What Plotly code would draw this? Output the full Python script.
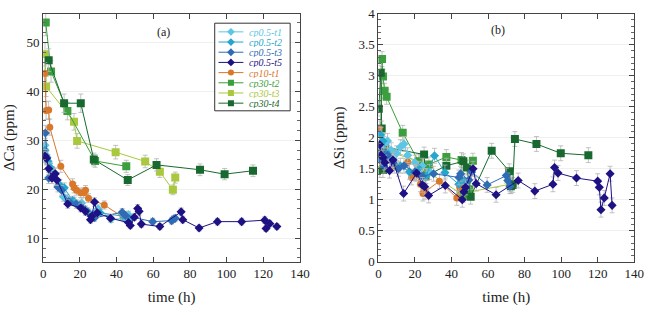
import plotly.graph_objects as go

W, H = 655, 315

series_names = ["cp0.5-t1", "cp0.5-t2", "cp0.5-t3", "cp0.5-t5",
                "cp10-t1", "cp30-t2", "cp30-t3", "cp30-t4"]
series_colors = ["#5cc6e4", "#25a6cc", "#2f6cb6", "#1d1184",
                 "#d9772a", "#3a9f3c", "#a9c83e", "#18692f"]
series_symbols = ["diamond", "diamond", "diamond", "diamond",
                  "circle", "square", "square", "square"]

# ---------------- Panel (a): delta Ca (ppm) ----------------
ca_t_cp05_t1 = [1.0, 1.5, 3.0, 5.0, 7.0, 9.0, 11.0, 13.0, 17.0, 21.0, 25.0, 30.0, 37.0, 44.5, 46.5]
ca_v_cp05_t1 = [29.0, 27.0, 25.3, 23.5, 22.0, 21.0, 18.5, 18.0, 17.5, 17.2, 15.2, 16.0, 13.9, 14.0, 14.8]

ca_t_cp05_t2 = [1.0, 2.5, 4.0, 6.0, 9.0, 11.5, 16.0, 20.0, 24.0, 27.5, 31.0, 44.0, 47.0]
ca_v_cp05_t2 = [28.0, 25.8, 24.4, 23.2, 20.8, 20.3, 17.7, 16.8, 15.5, 14.8, 15.2, 14.5, 14.0]

ca_t_cp05_t3 = [1.2, 2.0, 3.0, 5.0, 8.0, 10.0, 14.0, 18.0, 21.0, 23.0, 26.0, 28.0, 43.1, 45.0, 59.7, 70.0, 71.0, 72.0]
ca_v_cp05_t3 = [31.5, 26.5, 22.3, 22.8, 20.5, 19.8, 17.5, 17.0, 16.3, 15.8, 14.6, 14.2, 15.3, 14.6, 13.4, 13.6, 13.9, 14.1]

ca_t_cp05_t5 = [1.0, 1.8, 3.0, 4.8, 6.6, 7.5, 13.4, 20.5, 23.0, 25.8, 26.5, 28.0, 29.5, 36.7, 46.5,
                47.5, 49.7, 51.5, 52.3, 53.5, 63.6, 75.2, 76.1, 85.0, 95.0, 108.2, 120.8, 121.5, 123.5, 127.4]
ca_v_cp05_t5 = [26.8, 26.3, 24.2, 22.3, 23.2, 21.9, 17.0, 16.2, 15.5, 13.8, 14.5, 17.4, 15.2, 14.1, 13.2,
                12.6, 14.3, 16.1, 15.5, 12.9, 12.4, 15.4, 13.8, 12.1, 13.4, 13.4, 13.7, 12.0, 13.0, 12.4]

ca_t_cp10_t1 = [0.9, 1.6, 3.0, 3.6, 9.6, 16.0, 16.9, 18.2, 20.5, 22.1, 23.1, 24.7, 33.3, 43.6]
ca_v_cp10_t1 = [43.7, 36.1, 36.2, 32.7, 24.7, 21.1, 20.3, 19.8, 19.3, 19.3, 19.8, 18.2, 16.8, 14.3]

ca_t_cp30_t2 = [1.4, 4.3, 13.2, 28.3, 45.3]
ca_v_cp30_t2 = [54.1, 44.1, 36.0, 25.8, 24.7]

ca_t_cp30_t3 = [1.0, 1.6, 16.8, 18.5, 39.5, 55.6, 63.6, 70.7, 72.0]
ca_v_cp30_t3 = [47.6, 41.0, 33.8, 29.9, 27.6, 25.7, 23.6, 19.9, 22.4]

ca_t_cp30_t4 = [3.0, 11.4, 20.5, 27.6, 46.1, 61.8, 85.5, 98.9, 114.4]
ca_v_cp30_t4 = [46.4, 37.6, 37.6, 26.1, 21.9, 25.0, 24.0, 23.1, 23.8]

# ---------------- Panel (b): delta Si (ppm) ----------------
si_t_cp05_t1 = [0.5, 1.5, 3.0, 5.0, 7.0, 10.0, 12.0, 14.0, 16.0, 20.0, 24.0, 28.0]
si_v_cp05_t1 = [1.85, 2.05, 1.90, 1.95, 1.80, 1.75, 1.85, 1.90, 1.72, 1.60, 1.55, 1.45]

si_t_cp05_t2 = [1.0, 2.5, 5.0, 8.0, 12.0, 17.0, 22.0, 26.0, 30.7, 36.4, 44.0, 47.0]
si_v_cp05_t2 = [2.05, 1.95, 1.75, 1.65, 1.55, 1.45, 1.50, 1.38, 1.71, 1.44, 1.25, 1.30]

si_t_cp05_t3 = [0.5, 1.5, 3.0, 5.0, 8.0, 11.0, 14.0, 20.0, 24.0, 30.2, 44.1, 45.0, 49.5, 51.0, 59.5, 70.0, 70.8, 72.0]
si_v_cp05_t3 = [1.65, 1.78, 1.55, 1.72, 1.60, 1.50, 1.55, 1.45, 1.38, 1.42, 1.36, 1.42, 1.32, 1.45, 1.24, 1.39, 1.31, 1.22]

si_t_cp05_t5 = [0.7, 1.5, 2.5, 3.5, 6.1, 7.9, 13.8, 20.9, 24.1, 25.3, 27.5, 36.6, 45.9, 46.8, 47.7,
                51.8, 53.5, 64.4, 76.5, 85.6, 95.5, 96.4, 98.3, 108.4, 120.0, 120.9, 121.8, 123.6, 126.8, 127.9]
si_v_cp05_t5 = [1.89, 1.72, 1.68, 1.60, 1.47, 1.64, 1.10, 1.43, 1.24, 1.21, 1.07, 1.23, 1.00, 1.13, 1.20,
                1.50, 1.26, 1.08, 1.31, 1.14, 1.25, 1.52, 1.43, 1.35, 1.30, 1.20, 0.84, 1.03, 1.42, 0.91]

si_t_cp10_t1 = [0.5, 1.2, 3.5, 8.9, 16.1, 18.2, 20.5, 23.0, 24.4, 25.5, 33.4, 42.9, 44.5]
si_v_cp10_t1 = [2.15, 1.85, 1.62, 1.55, 1.61, 1.36, 1.42, 1.25, 1.10, 1.13, 1.30, 1.03, 1.20]

si_t_cp30_t2 = [0.8, 2.0, 2.5, 3.4, 4.5, 13.3, 22.0, 25.9, 27.6, 37.2, 45.5, 46.4, 49.8, 51.7]
si_v_cp30_t2 = [1.48, 3.27, 2.99, 2.76, 2.66, 2.08, 1.62, 1.38, 1.57, 1.69, 1.64, 1.08, 1.17, 1.63]

si_t_cp30_t3 = [1.5, 3.0, 22.5, 27.0, 45.0, 72.0]
si_v_cp30_t3 = [1.75, 1.80, 1.62, 1.45, 1.10, 1.25]

si_t_cp30_t4 = [0.2, 1.3, 1.8, 2.5, 3.5, 25.0, 25.8, 37.2, 46.5, 48.5, 50.5, 62.0, 71.6, 72.5, 73.5,
                74.7, 86.5, 99.8, 114.9]
si_v_cp30_t4 = [2.47, 3.05, 2.15, 1.48, 1.85, 1.73, 1.38, 1.55, 1.62, 1.52, 1.05, 1.79, 1.46, 1.22, 1.24,
                1.98, 1.90, 1.75, 1.72]

ca_data = [(ca_t_cp05_t1, ca_v_cp05_t1), (ca_t_cp05_t2, ca_v_cp05_t2), (ca_t_cp05_t3, ca_v_cp05_t3),
           (ca_t_cp05_t5, ca_v_cp05_t5), (ca_t_cp10_t1, ca_v_cp10_t1), (ca_t_cp30_t2, ca_v_cp30_t2),
           (ca_t_cp30_t3, ca_v_cp30_t3), (ca_t_cp30_t4, ca_v_cp30_t4)]
si_data = [(si_t_cp05_t1, si_v_cp05_t1), (si_t_cp05_t2, si_v_cp05_t2), (si_t_cp05_t3, si_v_cp05_t3),
           (si_t_cp05_t5, si_v_cp05_t5), (si_t_cp10_t1, si_v_cp10_t1), (si_t_cp30_t2, si_v_cp30_t2),
           (si_t_cp30_t3, si_v_cp30_t3), (si_t_cp30_t4, si_v_cp30_t4)]

draw_order = [6, 5, 7, 4, 0, 1, 2, 3]
FONT = "Liberation Serif, DejaVu Serif, serif"
marker_size = {"diamond": 7, "circle": 7, "square": 8}

fig = go.Figure()

for panel, data, xa, ya, err in [("a", ca_data, "x", "y", dict(type="percent", value=5)),
                                 ("b", si_data, "x2", "y2", dict(type="constant", value=0.12))]:
    for i in draw_order:
        t, v = data[i]
        fig.add_trace(go.Scatter(
            x=t, y=v, xaxis=xa, yaxis=ya, mode="lines+markers",
            name=series_names[i], showlegend=False,
            line=dict(color=series_colors[i], width=1),
            marker=dict(symbol=series_symbols[i], size=marker_size[series_symbols[i]],
                        color=series_colors[i], line=dict(width=0)),
            error_y=dict(visible=True, color="#b4b4b4", thickness=0.8, width=2.5, **err),
        ))

# custom compact legend on its own hidden axes
for i, nm in enumerate(series_names):
    fig.add_trace(go.Scatter(x=[0.05, 0.38], y=[i, i], xaxis="x3", yaxis="y3", mode="lines",
                             line=dict(color=series_colors[i], width=1), showlegend=False,
                             hoverinfo="skip"))
    fig.add_trace(go.Scatter(x=[0.215], y=[i], xaxis="x3", yaxis="y3", mode="markers",
                             marker=dict(symbol=series_symbols[i], size=6, color=series_colors[i]),
                             showlegend=False, hoverinfo="skip"))
    fig.add_annotation(x=0.43, y=i, xref="x3", yref="y3", text="<i>" + nm + "</i>",
                       showarrow=False, xanchor="left", yanchor="middle", height=10,
                       font=dict(family=FONT, size=10, color=series_colors[i]))

xa_dom = [41 / W, 303 / W]
xb_dom = [383 / W, 644 / W]
y_dom = [47.5 / H, 308 / H]
leg_x = [216 / W, 293 / W]
leg_y = [(H - 109) / H, (H - 17) / H]

axis_common = dict(showline=True, linecolor="#444", linewidth=1, mirror="ticks",
                   ticks="inside", ticklen=5, tickcolor="#444", zeroline=False,
                   ticklabeloverflow="allow",
                   tickfont=dict(family=FONT, size=13, color="#222"))

fig.update_layout(
    width=W, height=H, margin=dict(l=0, r=0, t=0, b=0),
    paper_bgcolor="white", plot_bgcolor="white", showlegend=False,
    font=dict(family=FONT, color="#222"),
    xaxis=dict(domain=xa_dom, range=[0, 140], dtick=20, anchor="y", showgrid=False,
               title=dict(text="time (h)", font=dict(family=FONT, size=15), standoff=11), **axis_common),
    yaxis=dict(domain=y_dom, range=[5.2, 55.9], tick0=10, dtick=10, anchor="x",
               showgrid=True, gridcolor="#efefef", gridwidth=1,
               minor=dict(ticks="inside", ticklen=3, tickcolor="#666", dtick=2, tick0=0, showgrid=False),
               title=dict(text="ΔCa (ppm)", font=dict(family=FONT, size=15), standoff=8), **axis_common),
    xaxis2=dict(domain=xb_dom, range=[0, 140], dtick=20, anchor="y2", showgrid=False,
                title=dict(text="time (h)", font=dict(family=FONT, size=15), standoff=11), **axis_common),
    yaxis2=dict(domain=y_dom, range=[0, 4.002], dtick=0.5, anchor="x2",
                showgrid=True, gridcolor="#efefef", gridwidth=1,
                minor=dict(ticks="inside", ticklen=3, tickcolor="#666", dtick=0.1, tick0=0, showgrid=False),
                title=dict(text="ΔSi (ppm)", font=dict(family=FONT, size=15), standoff=10), **axis_common),
    xaxis3=dict(domain=leg_x, range=[0, 1], visible=False, anchor="y3", fixedrange=True),
    yaxis3=dict(domain=leg_y, range=[7.75, -0.85], visible=False, anchor="x3", fixedrange=True),
)

fig.add_shape(type="rect", xref="paper", yref="paper", x0=leg_x[0], x1=leg_x[1], y0=leg_y[0], y1=leg_y[1],
              line=dict(color="#333", width=1), fillcolor="rgba(255,255,255,0)", layer="above")

fig.add_annotation(x=0.47, y=0.962, xref="x domain", yref="y domain", text="(a)", showarrow=False,
                   font=dict(family=FONT, size=12, color="#222"))
fig.add_annotation(x=0.467, y=0.969, xref="x2 domain", yref="y2 domain", text="(b)", showarrow=False,
                   font=dict(family=FONT, size=12, color="#222"))

fig.write_html("out.html")
